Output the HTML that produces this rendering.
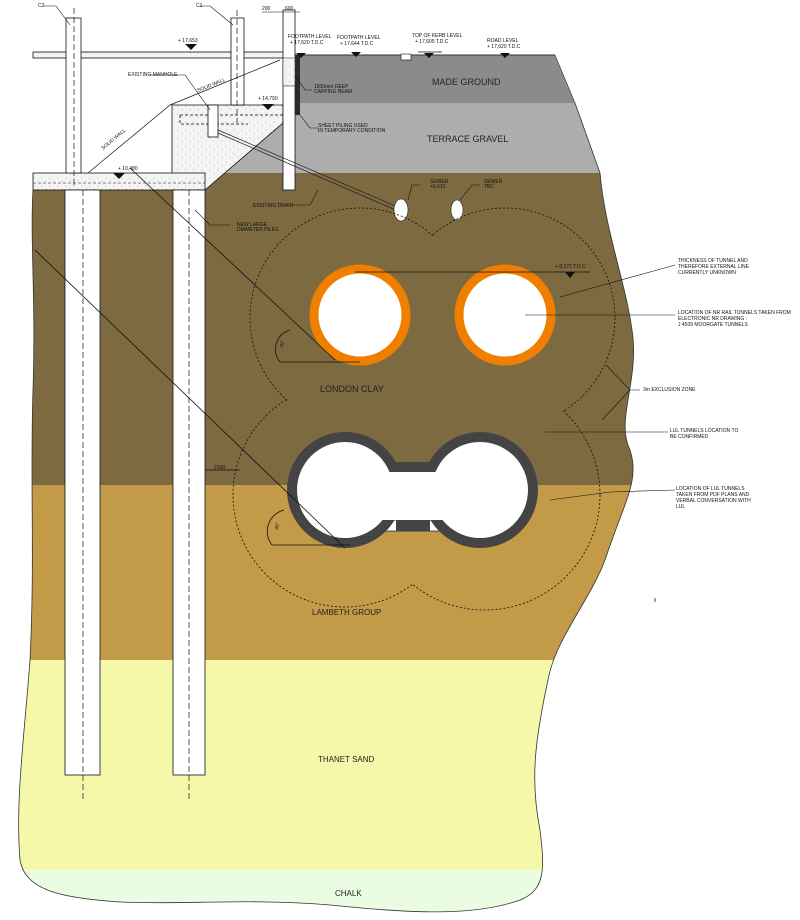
<!DOCTYPE html>
<html><head><meta charset="utf-8"><style>
html,body{margin:0;padding:0;background:#fff;}
svg{display:block;font-family:"Liberation Sans",sans-serif;}
.t{font-size:5px;fill:#111;}
.L{font-size:9px;fill:#222;}
</style></head><body>
<svg width="800" height="920" viewBox="0 0 800 920" xmlns="http://www.w3.org/2000/svg">
<defs>
<clipPath id="soil"><path d="M295,55 L555,55 L575,103 L600,173 C605,230 625,280 632,330 C640,380 615,420 630,450 C640,480 625,500 605,560 C590,600 555,640 548,680 C535,740 530,780 540,830 C545,870 545,890 520,900 C470,918 400,912 330,905 C250,898 180,905 120,902 C60,898 25,890 20,860 C15,800 25,730 30,660 C35,560 30,480 33,390 C36,300 30,240 33,190 L205,190 L283,123 L283,55 Z"/></clipPath>
<mask id="zm"><rect width="800" height="920" fill="#fff"/>
<circle cx="360" cy="318" r="109" fill="#000"/><circle cx="505" cy="318" r="109" fill="#000"/>
<circle cx="345" cy="495" r="111" fill="#000"/><circle cx="485" cy="495" r="114" fill="#000"/></mask>
<pattern id="dots" width="8" height="8" patternUnits="userSpaceOnUse"><rect width="8" height="8" fill="#f4f4f4"/><circle cx="2" cy="2" r="0.5" fill="#999"/><circle cx="6" cy="5" r="0.5" fill="#aaa"/></pattern>
</defs>
<g clip-path="url(#soil)">
<rect x="0" y="0" width="800" height="103" fill="#8b8b8b"/>
<rect x="0" y="103" width="800" height="70" fill="#adadad"/>
<rect x="0" y="173" width="800" height="312" fill="#7e6a41"/>
<rect x="0" y="485" width="800" height="175" fill="#c39a47"/>
<rect x="0" y="660" width="800" height="210" fill="#f5f8a8"/>
<rect x="0" y="870" width="800" height="50" fill="#eafde2"/>
</g>
<path d="M575,103 L600,173 C605,230 625,280 632,330 C640,380 615,420 630,450 C640,480 625,500 605,560 C590,600 555,640 548,680 C535,740 530,780 540,830 C545,870 545,890 520,900 C470,918 400,912 330,905 C250,898 180,905 120,902 C60,898 25,890 20,860 C15,800 25,730 30,660 C35,560 30,480 33,390 C36,300 30,240 33,190" fill="none" stroke="#333" stroke-width="0.8"/>
<line x1="295" y1="55" x2="555" y2="55" stroke="#333" stroke-width="1"/>
<line x1="555" y1="55" x2="575" y2="103" stroke="#333" stroke-width="0.6"/>

<!-- structure -->
<rect x="33" y="52" width="262" height="6" fill="url(#dots)" stroke="#111" stroke-width="0.8"/>
<path d="M172,105 L283,105 L283,123 L205,190 L172,190 Z" fill="url(#dots)" stroke="#111" stroke-width="0.8"/>
<rect x="33" y="173" width="172" height="17" fill="url(#dots)" stroke="#111" stroke-width="0.8"/>
<path d="M180,115 L283,115 M180,115 L180,124 L248,124" stroke="#111" stroke-width="0.8" stroke-dasharray="3,2" fill="none"/>
<path d="M33,183 L205,183" stroke="#111" stroke-width="0.6" stroke-dasharray="3,2"/>
<rect x="66" y="18" width="15" height="155" fill="#fff" stroke="#111" stroke-width="0.8"/>
<rect x="231" y="18" width="13" height="87" fill="#fff" stroke="#111" stroke-width="0.8"/>
<rect x="283" y="10" width="12" height="180" fill="#fff" stroke="#111" stroke-width="0.8"/>
<rect x="283" y="58" width="12" height="28" fill="url(#dots)" stroke="#111" stroke-width="0.5"/>
<rect x="295" y="55" width="5" height="60" fill="#2a2a2a"/>
<rect x="65" y="190" width="35" height="585" fill="#fff" stroke="#111" stroke-width="0.8"/>
<rect x="173" y="190" width="32" height="585" fill="#fff" stroke="#111" stroke-width="0.8"/>
<g stroke="#111" stroke-width="0.7" stroke-dasharray="6,3">
<line x1="74" y1="8" x2="74" y2="185"/><line x1="83" y1="190" x2="83" y2="800"/>
<line x1="237" y1="10" x2="237" y2="123"/><line x1="189" y1="190" x2="189" y2="800"/>
</g>
<line x1="88" y1="173" x2="170" y2="105" stroke="#111" stroke-width="0.7"/>
<line x1="170" y1="105" x2="280" y2="60" stroke="#111" stroke-width="0.7"/>
<rect x="208" y="105" width="10" height="32" fill="#fff" stroke="#111" stroke-width="0.8"/>
<path d="M218,130 L400,208 M218,133 L398,211" stroke="#222" stroke-width="0.7"/>
<ellipse cx="401" cy="210" rx="7" ry="11" fill="#fff" stroke="#222" stroke-width="0.6"/>
<ellipse cx="457" cy="210" rx="6" ry="10" fill="#fff" stroke="#222" stroke-width="0.6"/>
<rect x="401" y="54" width="10" height="6" fill="#fff" stroke="#111" stroke-width="0.6"/>

<!-- exclusion zone -->
<g mask="url(#zm)" fill="none" stroke="#111" stroke-width="0.8" stroke-dasharray="2,2">
<circle cx="360" cy="318" r="110"/><circle cx="505" cy="318" r="110"/>
<circle cx="345" cy="495" r="112"/><circle cx="485" cy="495" r="115"/>
</g>

<!-- NR tunnels -->
<circle cx="360" cy="315" r="46" fill="#fff" stroke="#f07f00" stroke-width="9"/>
<circle cx="505" cy="315" r="46" fill="#fff" stroke="#f07f00" stroke-width="9"/>
<!-- LUL tunnels -->
<rect x="370" y="520" width="114" height="11" fill="#fff" stroke="#111" stroke-width="0.7"/>
<circle cx="345" cy="490" r="58" fill="#444"/><circle cx="480" cy="490" r="58" fill="#444"/>
<rect x="396" y="462" width="34" height="69" fill="#444"/>
<circle cx="345" cy="490" r="48" fill="#fff"/><circle cx="480" cy="490" r="48" fill="#fff"/>
<rect x="345" y="472" width="135" height="48" fill="#fff"/>

<!-- angle lines -->
<g stroke="#111" stroke-width="0.8" fill="none">
<line x1="130" y1="168" x2="335" y2="360"/>
<line x1="280" y1="362" x2="360" y2="362"/>
<path d="M280,362 A20,20 0 0,1 290,330"/>
<line x1="35" y1="250" x2="345" y2="548"/>
<line x1="272" y1="545" x2="350" y2="545"/>
<path d="M272,545 A22,22 0 0,1 284,510"/>
<line x1="355" y1="272" x2="590" y2="272"/>
<line x1="205" y1="470" x2="240" y2="470"/>
</g>
<path d="M565,272 L575,272 L570,278 Z" fill="#111"/>

<!-- level markers -->
<g fill="#111">
<path d="M185,44 L197,44 L191,50Z"/><path d="M262,104 L274,104 L268,110Z"/><path d="M113,173 L125,173 L119,179Z"/>
<path d="M296,53 L306,53 L301,58Z"/><path d="M351,52 L361,52 L356,57Z"/><path d="M424,53 L434,53 L429,58Z"/><path d="M500,53 L510,53 L505,58Z"/>
</g>
<line x1="418" y1="52" x2="442" y2="52" stroke="#111" stroke-width="0.8"/>

<!-- leaders -->
<g stroke="#111" stroke-width="0.6" fill="none">
<path d="M44,6 L56,6 L70,25"/><path d="M199,6 L210,6 L233,25"/>
<path d="M262,12 L300,12"/>
<path d="M295,75 L305,90 L312,90"/>
<path d="M300,115 L310,128 L318,128"/>
<path d="M150,75 L185,75 L210,110"/>
<path d="M293,205 L310,205 L318,190"/>
<path d="M230,225 L210,225 L195,210"/>
<path d="M408,200 L412,185 L420,185"/><path d="M460,200 L472,185 L480,185"/>
<path d="M560,297 L675,265"/><path d="M525,315 L675,315"/>
<path d="M606,365 L630,390 L640,390 M602,420 L630,390"/>
<path d="M545,432 L668,432"/><path d="M550,500 L610,492 L675,490"/>
</g>

<!-- labels -->
<g class="t">
<text x="38" y="7">C3</text><text x="196" y="7">C1</text>
<text x="262" y="10">200</text><text x="285" y="10">600</text>
<text x="178" y="42">+ 17,653</text><text x="258" y="100">+ 14,790</text><text x="118" y="170">+ 10,480</text>
<text x="288" y="38">FOOTPATH LEVEL</text><text x="290" y="44">+ 17,620 T.D.C</text>
<text x="337" y="39">FOOTPATH LEVEL</text><text x="340" y="45">+ 17,644 T.D.C</text>
<text x="412" y="37">TOP OF KERB LEVEL</text><text x="415" y="43">+ 17,605 T.D.C</text>
<text x="487" y="42">ROAD LEVEL</text><text x="487" y="48">+ 17,620 T.D.C</text>
<text x="128" y="76">EXISTING MANHOLE</text>
<text x="198" y="92" transform="rotate(-22 198 92)">SOLID WALL</text>
<text x="103" y="150" transform="rotate(-40 103 150)">SOLID WALL</text>
<text x="314" y="88">1500mm DEEP</text><text x="314" y="93">CAPPING BEAM</text>
<text x="318" y="127">SHEET PILING USED</text><text x="318" y="132">IN TEMPORARY CONDITION</text>
<text x="253" y="207">EXISTING DRAIN</text>
<text x="430" y="183">SEWER</text><text x="430" y="188">+6,510</text>
<text x="484" y="183">SEWER</text><text x="484" y="188">TBC</text>
<text x="237" y="226">NEW LARGE</text><text x="237" y="231">DIAMETER PILES</text>
<text x="555" y="268">+ 8,172 T.D.C</text>
<text x="678" y="262">THICKNESS OF TUNNEL AND</text><text x="678" y="268">THEREFORE EXTERNAL LINE</text><text x="678" y="274">CURRENTLY UNKNOWN</text>
<text x="678" y="314">LOCATION OF NR RAIL TUNNELS TAKEN FROM</text><text x="678" y="320">ELECTRONIC NR DRAWING :</text><text x="678" y="326">J 4509 MOORGATE TUNNELS</text>
<text x="643" y="391">3m EXCLUSION ZONE</text>
<text x="670" y="432">LUL TUNNELS LOCATION TO</text><text x="670" y="438">BE CONFIRMED</text>
<text x="676" y="490">LOCATION OF LUL TUNNELS</text><text x="676" y="496">TAKEN FROM PDF PLANS AND</text><text x="676" y="502">VERBAL CONVERSATION WITH</text><text x="676" y="508">LUL</text>
<text x="214" y="469">2100</text>
<text x="283" y="348" transform="rotate(-80 283 348)">45°</text>
<text x="278" y="530" transform="rotate(-80 278 530)">45°</text>
</g>
<g class="L">
<text x="432" y="85">MADE GROUND</text>
<text x="427" y="142">TERRACE GRAVEL</text>
<text x="320" y="392">LONDON CLAY</text>
<text x="312" y="615" style="font-size:8px">LAMBETH GROUP</text>
<text x="318" y="762" style="font-size:8px">THANET SAND</text>
<text x="335" y="896" style="font-size:8px">CHALK</text>
</g>
<line x1="655" y1="598" x2="655" y2="602" stroke="#111" stroke-width="0.8"/>
</svg>
</body></html>
